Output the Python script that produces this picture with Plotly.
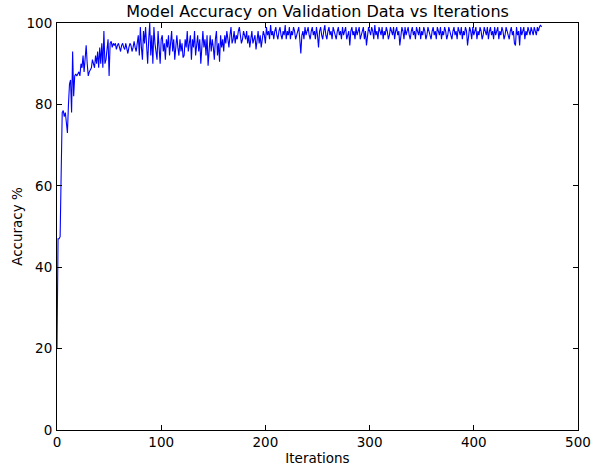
import plotly.graph_objects as go

accuracy = [
    20, 47, 47, 47.5, 63, 78, 78.5, 77, 78, 76,
    73, 80, 85, 86, 78, 93, 82, 87, 87.5, 87,
    87.5, 88, 87, 90, 89, 92, 88, 91, 94.5, 90,
    87, 88, 88.5, 89, 91, 90, 89, 92, 90, 93,
    89, 94, 90, 95, 89, 98, 90, 91, 94, 96,
    87,
    95, 95.5, 94, 95, 94.5, 95, 93.5, 94.5, 95, 94,
    93, 94.5, 95, 94, 93.5, 95, 94, 92.5, 94, 95,
    94.5, 93, 94, 95.5, 94, 93, 95,
    97, 92, 99, 94, 91, 98, 95, 99, 93, 90,
    96, 100, 92, 97, 90, 99, 95, 93, 91, 98,
    94, 90, 96,
    97, 93, 95, 91, 96, 94, 97, 92, 95, 98,
    93, 96, 91, 95, 97, 94, 92, 96, 93, 95,
    91.5, 92, 96, 94, 98, 93, 95, 97, 91, 96,
    94, 98, 92, 95, 97, 93, 96, 90, 95, 98,
    94, 96, 92, 97, 89.5,
    95, 97, 93, 96, 94, 91, 96, 98, 92, 95,
    90.5, 97, 94, 96, 93,
    97, 95, 98, 96, 94, 97, 99, 95, 96, 98,
    95, 97, 96, 98, 99, 97, 95, 96, 98, 97,
    96, 98, 95, 97, 94, 96, 98, 95, 96, 97,
    93.5, 96, 98, 95, 97, 94, 96, 98, 97, 95,
    99, 97, 98, 96, 99.5, 97, 98, 96, 98, 99,
    97, 96, 98, 99, 97, 96, 98, 97, 99.5, 96,
    98, 97, 99, 96, 98, 97, 99, 98, 96, 97,
    98, 99, 96, 92.5, 97, 98, 96, 99, 97, 98,
    99, 97, 96, 98, 99, 97, 98, 96, 99, 97,
    94, 98, 99, 97, 96, 98, 99.5, 97, 96, 98,
    99, 97, 98, 96, 99, 98, 97, 96, 98, 99,
    97, 98, 96, 99, 97, 98, 99, 96, 97, 98,
    94.5, 98, 99, 97, 98, 96, 99, 97, 98, 99,
    96, 97, 98, 99, 96, 98, 94.5, 97, 99, 98,
    97, 99, 98, 96, 99.5, 97, 98, 96, 99, 98,
    97, 99, 96, 98, 97, 99, 98, 96, 97, 99,
    98, 97, 99, 96, 98, 99, 97, 98, 94.5, 97,
    99, 98, 96, 99, 97, 98, 99, 97, 96, 98,
    99, 97, 98, 96, 99, 98, 97, 99, 96, 98,
    97, 99, 98, 96, 97, 99, 98, 97, 96, 98,
    99, 97, 98, 96, 99, 98, 97, 99, 96, 98,
    97, 99, 98, 96, 97, 99, 98, 97, 96, 98,
    99, 97, 98, 96, 99, 98, 97, 99, 96, 98,
    97, 99, 98, 94.5, 97, 99, 98, 96, 99, 97,
    98, 99, 96, 98, 97, 99, 98, 96, 97, 99,
    98, 97, 99, 96, 98, 99, 97, 98, 96, 99,
    97, 98, 99, 96, 98, 97, 99, 98, 96, 97,
    99, 98, 97, 96, 98, 99, 97, 98, 95, 94.5,
    99, 97, 98, 94.5, 99, 97, 98, 99, 96, 98,
    97, 99, 98, 97, 99, 98, 97, 99, 98, 97,
    99, 98, 99, 99.5, 99,
]
iterations = list(range(len(accuracy)))

title_text = "Model Accuracy on Validation Data vs Iterations"
x_label = "Iterations"
y_label = "Accuracy %"
x_ticks = [0, 100, 200, 300, 400, 500]
y_ticks = [0, 20, 40, 60, 80, 100]

font_family = "DejaVu Sans"

fig = go.Figure(go.Scatter(
    x=iterations, y=accuracy, mode="lines",
    line=dict(color="#0000ff", width=1.1),
    hoverinfo="skip", cliponaxis=True,
))

axis_common = dict(
    showgrid=False, zeroline=False, automargin=False,
    showline=True, linecolor="black", linewidth=1, mirror="ticks",
    ticks="inside", ticklen=5, tickcolor="black", tickwidth=1,
    tickfont=dict(family=font_family, size=13.5, color="black"),
)

fig.update_layout(
    width=592, height=468,
    paper_bgcolor="white", plot_bgcolor="white",
    margin=dict(l=57, r=14, t=23, b=38),
    showlegend=False,
    title=dict(text=title_text, xref="paper", x=0.5, xanchor="center",
               y=0.975, yanchor="middle", automargin=False,
               font=dict(family=font_family, size=16, color="black")),
    xaxis=dict(range=[0, 500], tickvals=x_ticks, ticklabelstandoff=0,
               title=dict(text=x_label, standoff=4,
               font=dict(family=font_family, size=13.5, color="black")), **axis_common),
    yaxis=dict(range=[0, 100], tickvals=y_ticks, ticklabelstandoff=1,
               title=dict(text=y_label, standoff=0,
               font=dict(family=font_family, size=13.5, color="black")), **axis_common),
)

fig.write_html(
    "out.html",
    config={"displayModeBar": False},
    post_script="document.body.style.margin='0px';document.body.style.overflow='hidden';",
)
